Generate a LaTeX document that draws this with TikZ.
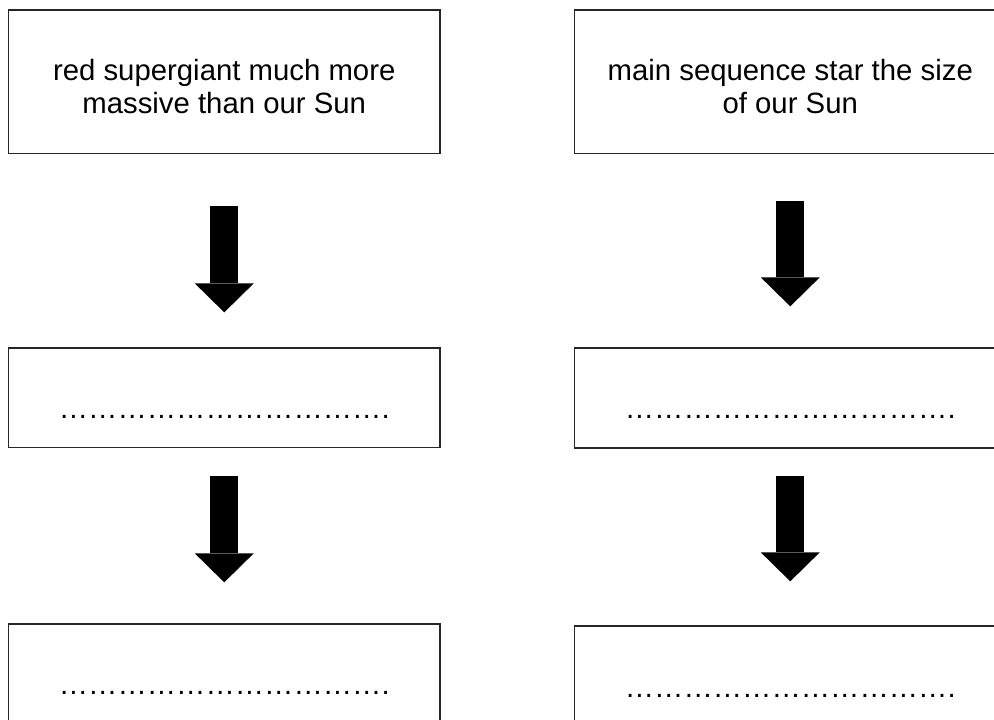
\documentclass[tikz,border=0pt]{standalone}
\usepackage{fontspec}
\setmainfont{Liberation Sans}
\usepackage{tikz}
\usetikzlibrary{arrows.meta}

\begin{document}
\begin{tikzpicture}[x=0.75pt,y=0.75pt,yscale=-1,xscale=1,
  stagebox/.style={draw=black!85,line width=1pt,minimum width=323.6pt,inner sep=0pt},
  stagetext/.style={inner sep=0pt,align=center,font=\fontsize{22}{25}\selectfont},
  blankline/.style={anchor=base,inner sep=0pt,font=\fontsize{22}{25}\selectfont},
  bigarrow/.style={line width=21pt,-{Triangle[width=44.25pt,length=21.75pt,line width=0pt]}}]

\useasboundingbox (0,0) rectangle (994,719);

\clip (0,0) rectangle (994,719);


\node [stagebox,minimum height=107.6pt] (redtop) at (224.25,81.75) {};

\node [stagebox,minimum height=74.6pt] (redmid) at (224.25,397.75) {};

\node [stagebox,minimum height=82.5pt] (redbot) at (224.25,679) {};

\node [stagebox,minimum height=107.6pt] (maintop) at (790.25,81.75) {};

\node [stagebox,minimum height=75pt] (mainmid) at (790.25,398) {};

\node [stagebox,minimum height=82.5pt] (mainbot) at (790.25,681) {};



\node [stagetext] (redtoptext) at (224.25,86.5) {red supergiant much more\\massive than our Sun};

\node [stagetext] (maintoptext) at (790.25,86.5) {main sequence star the size\\of our Sun};



\draw [bigarrow,shorten <=39pt,shorten >=26.25pt] (redtop) -- (redmid);

\draw [bigarrow,shorten <=21pt,shorten >=30.75pt] (redmid) -- (redbot);

\draw [bigarrow,shorten <=34.9pt,shorten >=30.75pt] (maintop) -- (mainmid);

\draw [bigarrow,shorten <=20.8pt,shorten >=33pt] (mainmid) -- (mainbot);



\node [blankline] (redmidtext) at (224.25,418.5) {…………………………….};

\node [blankline] (redbottext) at (224.25,694.5) {…………………………….};

\node [blankline] (mainmidtext) at (790.25,418.5) {…………………………….};

\node [blankline] (mainbottext) at (790.25,697) {…………………………….};

\end{tikzpicture}
\end{document}
